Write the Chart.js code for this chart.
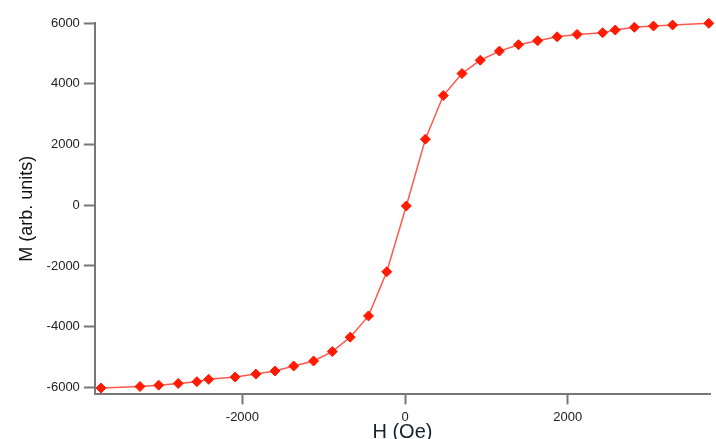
<!DOCTYPE html>
<html>
<head>
<meta charset="utf-8">
<title>M vs H</title>
<script src="https://cdn.jsdelivr.net/npm/chart.js@4/dist/chart.umd.min.js"></script>
<style>
  html, body { margin: 0; padding: 0; background: #fff; overflow: hidden; }
  #wrap { width: 716px; height: 444px; position: relative; }
</style>
</head>
<body>
<div id="wrap"><canvas id="myChart"></canvas></div>
<script>
  // data
  const fieldOe = [-3740, -3260, -3030, -2790, -2560, -2415, -2090, -1835, -1600, -1370, -1125, -895, -675, -450, -225, 15,
                   250, 470, 700, 925, 1160, 1395, 1630, 1870, 2115, 2430, 2585, 2820, 3055, 3290, 3735];
  const magnet = [-6020, -5970, -5925, -5870, -5810, -5735, -5660, -5560, -5460, -5295, -5130, -4820, -4345, -3645, -2190, -25,
                  2175, 3610, 4335, 4775, 5075, 5285, 5415, 5545, 5625, 5680, 5770, 5860, 5900, 5935, 5990];
  const xTicks = [-2000, 0, 2000];
  const yTicks = [-6000, -4000, -2000, 0, 2000, 4000, 6000];

  // setup
  const data = {
    datasets: [{
      label: 'M vs H',
      data: fieldOe.map((h, i) => ({ x: h, y: magnet[i] })),
      borderColor: 'rgba(255, 70, 60, 0.9)',
      borderWidth: 1.5,
      backgroundColor: '#ff1a00',
      pointBackgroundColor: '#ff1a00',
      pointBorderColor: '#ff1a00',
      pointStyle: 'rectRot',
      pointRadius: 5,
      pointBorderWidth: 1,
      tension: 0,
      clip: false
    }]
  };

  const tickFont = { family: 'Liberation Sans, Arial, sans-serif', size: 13 };
  const plain = v => String(v);

  // config
  const config = {
    type: 'scatter',
    data,
    options: {
      responsive: true,
      maintainAspectRatio: false,
      animation: false,
      showLine: true,
      layout: { padding: { left: 12, top: 23, right: 0, bottom: 0 } },
      plugins: { legend: { display: false }, tooltip: { enabled: false } },
      scales: {
        x: {
          type: 'linear',
          min: -3815,
          max: 3750,
          afterBuildTicks: s => { s.ticks = xTicks.map(v => ({ value: v })); },
          ticks: { font: tickFont, color: '#222', padding: 5, maxRotation: 0, callback: plain },
          grid: { drawOnChartArea: false, drawTicks: true, tickLength: 10, tickColor: '#777', tickWidth: 2 },
          border: { display: true, color: '#777', width: 2 },
          title: {
            display: true,
            text: 'H (Oe)',
            color: '#16202e',
            font: { family: 'Liberation Sans, Arial, sans-serif', size: 20 },
            padding: { top: -10, bottom: 0 }
          }
        },
        y: {
          type: 'linear',
          min: -6230,
          max: 6000,
          afterBuildTicks: s => { s.ticks = yTicks.map(v => ({ value: v })); },
          ticks: { font: tickFont, color: '#222', padding: 4, callback: plain },
          grid: { drawOnChartArea: false, drawTicks: true, tickLength: 11, tickColor: '#777', tickWidth: 2 },
          border: { display: true, color: '#777', width: 2 },
          title: {
            display: true,
            text: 'M (arb. units)',
            color: '#111',
            font: { family: 'Liberation Sans, Arial, sans-serif', size: 18 },
            padding: { top: 4, bottom: 5 }
          }
        }
      }
    }
  };

  // render init block
  const myChart = new Chart(document.getElementById('myChart'), config);
</script>
</body>
</html>
